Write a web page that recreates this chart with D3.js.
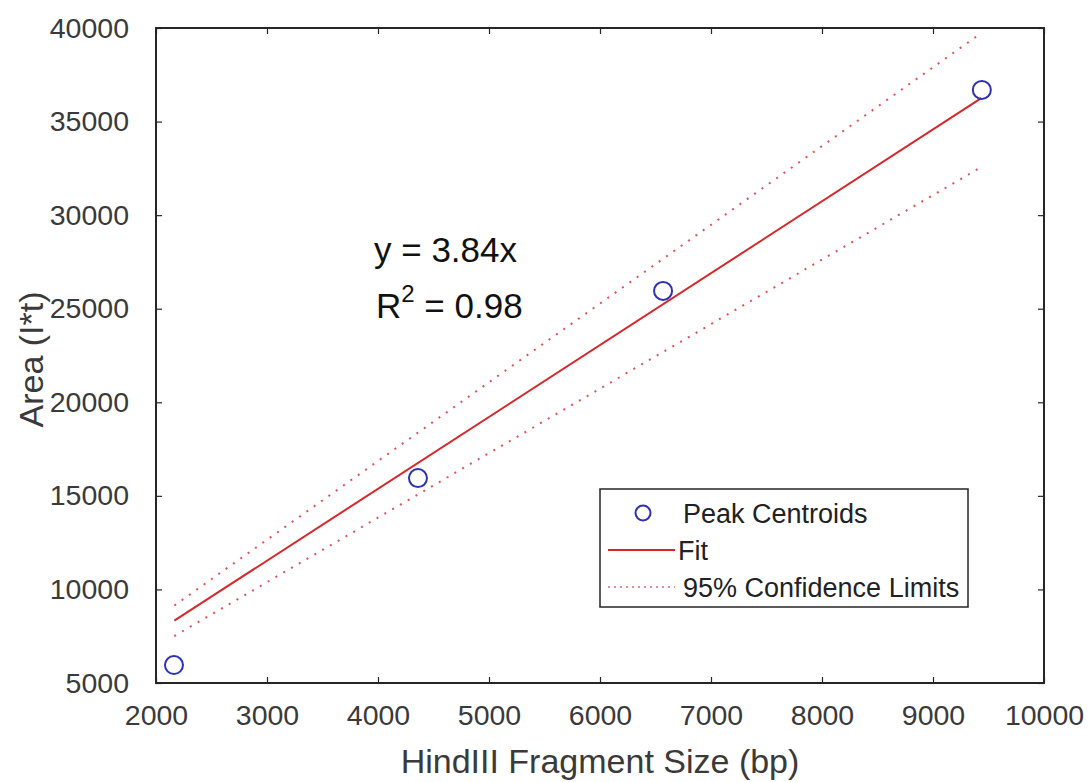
<!DOCTYPE html>
<html>
<head>
<meta charset="utf-8">
<script src="https://cdn.jsdelivr.net/npm/d3@7"></script>
<style>
  body { margin: 0; background: #fff; }
  svg { display: block; font-family: "Liberation Sans", Arial, Helvetica, sans-serif; }
</style>
</head>
<body>
<script>
// data
var pointX = [2162, 4360, 6568, 9440];
var pointY = [5960, 15950, 25950, 36690];
var fitX = [2165, 9435];
var fitY = [8330, 36250];
var upperY = [9140, 39730];
var lowerY = [7510, 32570];
var xTicks = [2000, 3000, 4000, 5000, 6000, 7000, 8000, 9000, 10000];
var yTicks = [5000, 10000, 15000, 20000, 25000, 30000, 35000, 40000];
var legendLabels = ["Peak Centroids", "Fit", "95% Confidence Limits"];

var width = 1089, height = 782;
var plotLeft = 156, plotRight = 1044, plotTop = 28, plotBottom = 683;

var svg = d3.select("body").append("svg")
    .attr("width", width)
    .attr("height", height);

var x = d3.scaleLinear().domain([2000, 10000]).range([plotLeft, plotRight]);
var y = d3.scaleLinear().domain([5000, 40000]).range([plotBottom, plotTop]);

var axisColor = "#262626";
var red = "#d9262b";
var blue = "#3030b4";

// axes, ticks pointing inward
var xAxis = d3.axisBottom(x).tickValues(xTicks).tickSize(-6).tickPadding(22).tickFormat(d3.format("d"));
var yAxis = d3.axisLeft(y).tickValues(yTicks).tickSize(-6).tickPadding(27).tickFormat(d3.format("d"));

function styleAxis(g) {
  g.select(".domain").remove();
  g.selectAll("line").attr("stroke", axisColor).attr("stroke-width", 1.2);
  g.selectAll("text").attr("fill", "#3a3a3a").style("font-size", "28.5px");
}

svg.append("g").attr("transform", "translate(0," + plotBottom + ")").call(xAxis).call(styleAxis);
svg.append("g").attr("transform", "translate(" + plotLeft + ",0)").call(yAxis).call(styleAxis);
svg.append("g").attr("transform", "translate(0," + plotTop + ")")
    .call(d3.axisTop(x).tickValues(xTicks).tickSize(-6).tickFormat("")).call(styleAxis);
svg.append("g").attr("transform", "translate(" + plotRight + ",0)")
    .call(d3.axisRight(y).tickValues(yTicks).tickSize(-6).tickFormat("")).call(styleAxis);

// box
svg.append("rect")
    .attr("x", plotLeft).attr("y", plotTop)
    .attr("width", plotRight - plotLeft).attr("height", plotBottom - plotTop)
    .attr("fill", "none").attr("stroke", axisColor).attr("stroke-width", 2);

// lines
var line = d3.line().x(function(d) { return x(d[0]); }).y(function(d) { return y(d[1]); });

function pairs(xs, ys) { return xs.map(function(v, i) { return [v, ys[i]]; }); }

svg.append("path").datum(pairs(fitX, upperY))
    .attr("d", line).attr("fill", "none").attr("stroke", red)
    .attr("stroke-width", 2).attr("stroke-dasharray", "2,7").attr("opacity", 0.8);
svg.append("path").datum(pairs(fitX, lowerY))
    .attr("d", line).attr("fill", "none").attr("stroke", red)
    .attr("stroke-width", 2).attr("stroke-dasharray", "2,7").attr("opacity", 0.8);
svg.append("path").datum(pairs(fitX, fitY))
    .attr("d", line).attr("fill", "none").attr("stroke", red)
    .attr("stroke-width", 2);

// points
svg.selectAll("circle.pt")
    .data(pairs(pointX, pointY))
    .enter()
    .append("circle")
    .attr("class", "pt")
    .attr("cx", function(d) { return x(d[0]); })
    .attr("cy", function(d) { return y(d[1]); })
    .attr("r", 9)
    .attr("fill", "none")
    .attr("stroke", blue)
    .attr("stroke-width", 2);

// axis labels
svg.append("text")
    .attr("x", (plotLeft + plotRight) / 2)
    .attr("y", 773)
    .attr("text-anchor", "middle")
    .attr("fill", "#3a3a3a")
    .style("font-size", "34px")
    .text("HindIII Fragment Size (bp)");

svg.append("text")
    .attr("transform", "translate(43," + ((plotTop + plotBottom) / 2 + 4) + ") rotate(-90)")
    .attr("text-anchor", "middle")
    .attr("fill", "#3a3a3a")
    .style("font-size", "34px")
    .text("Area (I*t)");

// equation annotation
var eq = svg.append("g").attr("fill", "#111").style("font-size", "35px");
eq.append("text").attr("x", 374).attr("y", 262).text("y = 3.84x");
var r2 = eq.append("text").attr("x", 376).attr("y", 318);
r2.append("tspan").text("R");
r2.append("tspan").attr("dy", -16).style("font-size", "24px").text("2");
r2.append("tspan").attr("dy", 16).text(" = 0.98");

// legend
var legend = svg.append("g");
legend.append("rect")
    .attr("x", 600).attr("y", 489)
    .attr("width", 368).attr("height", 118)
    .attr("fill", "#fff").attr("stroke", axisColor).attr("stroke-width", 1.5);

var rowY = [513, 550, 587];
legend.append("circle")
    .attr("cx", 643).attr("cy", rowY[0]).attr("r", 7.5)
    .attr("fill", "none").attr("stroke", blue).attr("stroke-width", 2);
legend.append("line")
    .attr("x1", 608).attr("x2", 675).attr("y1", rowY[1]).attr("y2", rowY[1])
    .attr("stroke", red).attr("stroke-width", 2);
legend.append("line")
    .attr("x1", 608).attr("x2", 675).attr("y1", rowY[2]).attr("y2", rowY[2])
    .attr("stroke", red).attr("stroke-width", 1.5).attr("stroke-dasharray", "2,4").attr("opacity", 0.7);

legend.selectAll("text.leg")
    .data(legendLabels)
    .enter()
    .append("text")
    .attr("class", "leg")
    .attr("x", function(d, i) { return i === 1 ? 678 : 683; })
    .attr("y", function(d, i) { return rowY[i]; })
    .attr("dy", "0.36em")
    .attr("fill", "#222")
    .style("font-size", "27px")
    .text(function(d) { return d; });
</script>
</body>
</html>
